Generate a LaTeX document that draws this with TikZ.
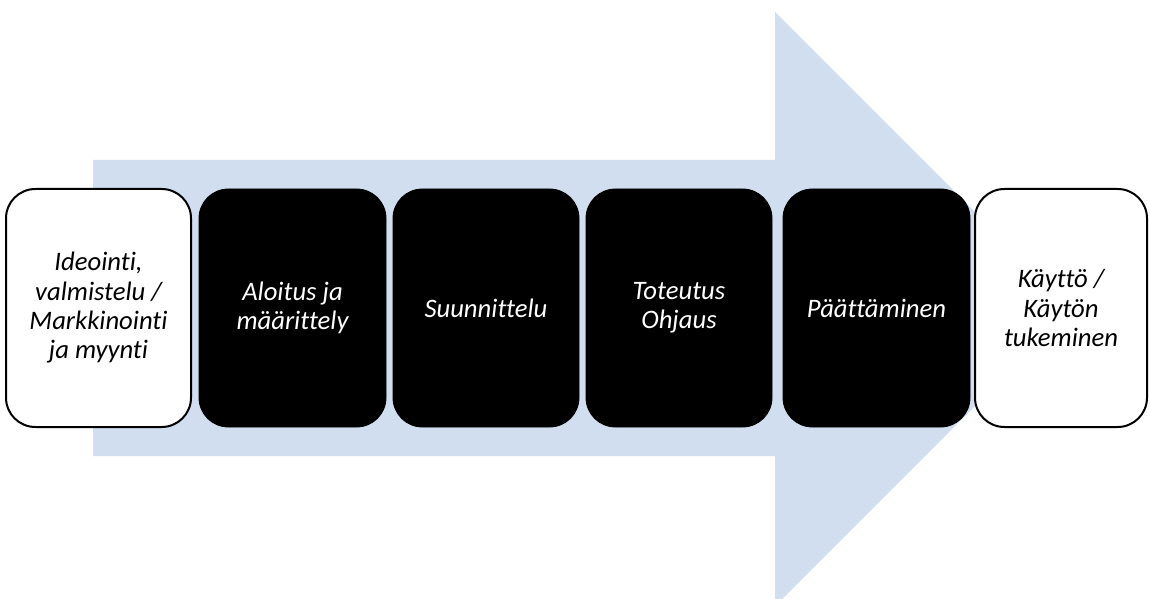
\documentclass[tikz,border=0pt]{standalone}
\usepackage{fontspec}
\setmainfont{Carlito}[Ligatures=NoCommon]
\definecolor{flowblue}{RGB}{209,222,239}
\tikzset{
  phase/.style={rounded corners=22pt, minimum height=178.5pt, align=center,
    inner sep=2pt, font=\fontsize{20}{22}\selectfont\itshape},
  lightphase/.style={phase, draw=black, line width=1.5pt, fill=white, text=black},
  darkphase/.style={phase, draw=black, line width=0.6pt, fill=black, text=white}
}
\begin{document}
\begin{tikzpicture}[x=0.75pt,y=-0.75pt]
  \useasboundingbox (0,0) rectangle (1150,599);
  \clip (0,0) rectangle (1150,599);
  % large background arrow
  \fill[flowblue] (93,160) -- (775,160) -- (775,12) -- (1072,309)
    -- (775,606) -- (775,456) -- (93,456) -- cycle;
  % phase boxes
  \node[lightphase, minimum width=138.75pt] (p1) at (98.5,308)
    {Ideointi,\\valmistelu /\\Markkinointi\\ja myynti};
  \node[darkphase, minimum width=140.25pt] (p2) at (292.5,308)
    {Aloitus ja\\määrittely};
  \node[darkphase, minimum width=139.5pt] (p3) at (486,308)
    {Suunnittelu};
  \node[darkphase, minimum width=139.5pt] (p4) at (679,308)
    {Toteutus\\Ohjaus};
  \node[darkphase, minimum width=140.25pt] (p5) at (876.5,308)
    {Päättäminen};
  \node[lightphase, minimum width=129pt] (p6) at (1061,308)
    {Käyttö /\\Käytön\\tukeminen};
\end{tikzpicture}
\end{document}
